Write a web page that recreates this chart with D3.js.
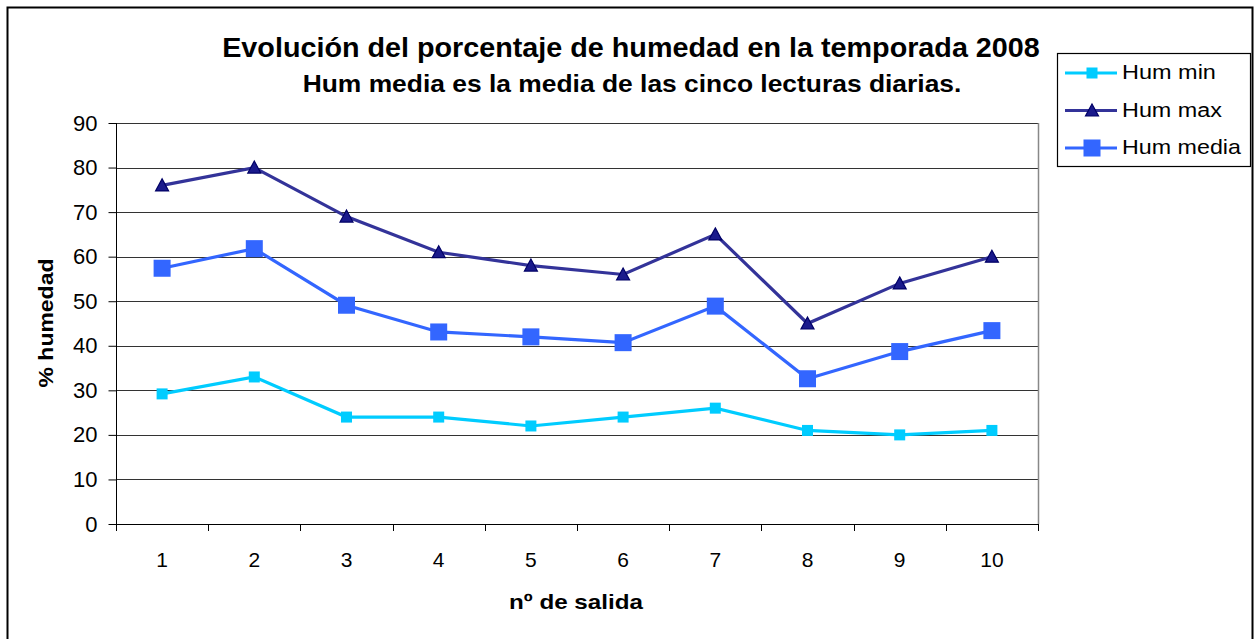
<!DOCTYPE html>
<html><head><meta charset="utf-8">
<script src="https://cdn.jsdelivr.net/npm/d3@7"></script>
<style>body{margin:0;background:#fff}svg{display:block}text{font-family:"Liberation Sans",Arial,sans-serif}</style>
</head><body><svg id="c" width="1254" height="639"></svg>
<script>
const categories = ["1","2","3","4","5","6","7","8","9","10"];
const humMin = [29.2,33,24,24,22,24,26,21,20,21];
const humMax = [76,80,69,61,58,56,65,45,54,60];
const humMedia = [57.4,61.8,49.1,43.1,42,40.7,48.9,32.6,38.7,43.4];
const yTicks = [0,10,20,30,40,50,60,70,80,90];
const seriesNames = ["Hum min","Hum max","Hum media"];

(function(){
const svg = d3.select("#c");
const pL=116,pR=1038,pT=123,pB=524;

svg.append("rect").attr("x",7.5).attr("y",7.5).attr("width",1245).attr("height",640)
  .attr("fill","#fff").attr("stroke","#000").attr("stroke-width",2);

const x = d3.scaleBand().domain(categories).range([pL,pR]);
const y = d3.scaleLinear().domain([0,90]).range([pB,pT]);

svg.append("g").selectAll("line").data(yTicks.filter(d=>d>0)).join("line")
  .attr("x1",pL).attr("x2",pR).attr("y1",d=>Math.round(y(d))+0.5).attr("y2",d=>Math.round(y(d))+0.5)
  .attr("stroke","#333").attr("stroke-width",1.2);
svg.append("line").attr("x1",pR+0.5).attr("x2",pR+0.5).attr("y1",pT).attr("y2",pB).attr("stroke","#888").attr("stroke-width",1.5);

const ff="Liberation Sans, Arial, sans-serif";
const ya = svg.append("g").attr("transform",`translate(${pL+0.5},0)`)
  .call(d3.axisLeft(y).tickValues(yTicks).tickSize(8).tickPadding(11).tickFormat(d3.format("d")));
ya.select(".domain").attr("stroke","#000").attr("d",`M0,${pT}V${pB}`);
ya.selectAll(".tick line").attr("stroke","#000");
ya.selectAll("text").attr("font-size",22).attr("fill","#000").style("font-family",ff);

const xa = svg.append("g").attr("transform",`translate(0,${Math.round(pB)+0.5})`)
  .call(d3.axisBottom(x).tickSize(0).tickPadding(28));
xa.select(".domain").attr("stroke","#000").attr("d",`M${pL},0H${pR}`);
xa.selectAll("text").attr("font-size",21).attr("fill","#000").style("font-family",ff);
svg.append("g").selectAll("line").data(d3.range(categories.length+1)).join("line")
  .attr("x1",i=>Math.round(pL+i*x.bandwidth())+0.5).attr("x2",i=>Math.round(pL+i*x.bandwidth())+0.5)
  .attr("y1",pB).attr("y2",pB+7).attr("stroke","#000");

const cx = (d,i)=>x(categories[i])+x.bandwidth()/2;
const series = [
  {name:seriesNames[0],vals:humMin,line:"#00CCFF",fill:"#00CCFF",stroke:"#00CCFF",shape:"sq",size:11,tl:94},
  {name:seriesNames[1],vals:humMax,line:"#333399",fill:"#1A1A8C",stroke:"#000066",shape:"tri",size:13,tl:100},
  {name:seriesNames[2],vals:humMedia,line:"#3366FF",fill:"#3366FF",stroke:"#3366FF",shape:"sq",size:17,tl:119}
];
function marker(g,s,px,py){
  if(s.shape==="sq"){
    g.append("rect").attr("x",px-s.size/2).attr("y",py-s.size/2).attr("width",s.size).attr("height",s.size).attr("fill",s.fill);
  } else {
    const h=11, w=s.size;
    g.append("path").attr("d",`M${px},${py-h/2-1}L${px+w/2},${py+h/2}L${px-w/2},${py+h/2}Z`)
      .attr("fill",s.fill).attr("stroke",s.stroke).attr("stroke-width",1.2);
  }
}
series.forEach(s=>{
  const line=d3.line().x((d,i)=>cx(d,i)).y(d=>y(d));
  svg.append("path").datum(s.vals).attr("d",line).attr("fill","none").attr("stroke",s.line).attr("stroke-width",3.2);
  const g=svg.append("g");
  s.vals.forEach((v,i)=>marker(g,s,cx(v,i),y(v)));
});

function stext(parent,tx,ty,rot,anchor,size,weight,str,len){
  const g=parent.append("g").attr("transform",`translate(${tx},${ty}) rotate(${rot})`);
  const inner=g.append("g");
  const t=inner.append("text").attr("x",0).attr("y",0).attr("text-anchor",anchor)
    .attr("font-size",size).attr("font-weight",weight).text(str);
  const w=t.node().getComputedTextLength();
  inner.attr("transform",`scale(${len/w},1)`);
  return t;
}
stext(svg,631,57,0,"middle",27,"bold","Evolución del porcentaje de humedad en la temporada 2008",818);
stext(svg,632,92,0,"middle",23,"bold","Hum media es la media de las cinco lecturas diarias.",659);
stext(svg,53,323,-90,"middle",21,"bold","% humedad",129);
stext(svg,576,609,0,"middle",21,"bold","nº de salida",134);

const lg=svg.append("g");
lg.append("rect").attr("x",1057.5).attr("y",53.5).attr("width",193).attr("height",113).attr("fill","#fff").attr("stroke","#000").attr("stroke-width",1.2);
series.forEach((s,i)=>{
  const yy=73+i*37.5;
  lg.append("line").attr("x1",1065).attr("x2",1117).attr("y1",yy).attr("y2",yy).attr("stroke",s.line).attr("stroke-width",3.2);
  marker(lg,s,1092,yy);
  stext(lg,1122,yy+6,0,"start",20,"normal",s.name,s.tl);
});
})();
</script></body></html>
